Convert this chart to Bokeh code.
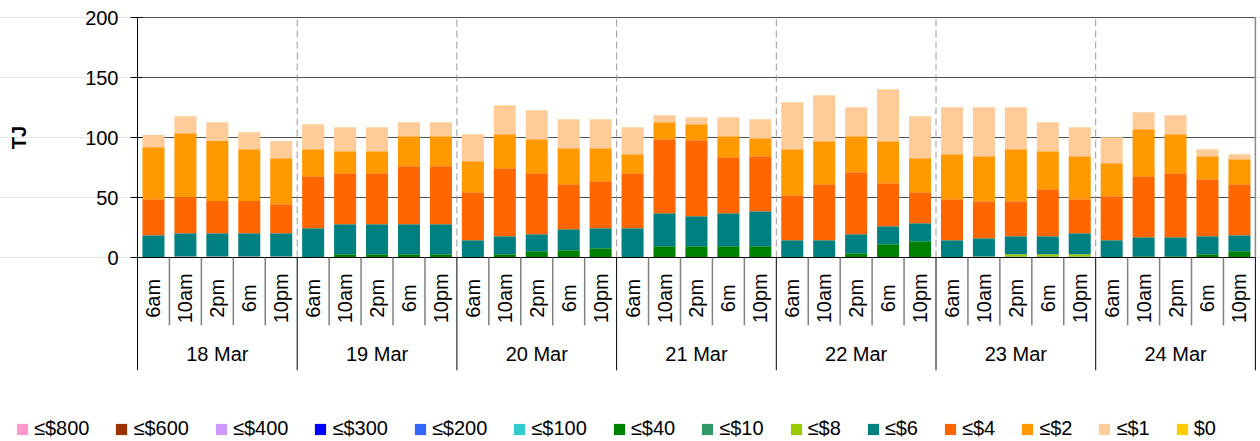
import math
from bokeh.plotting import figure
from bokeh.models import ColumnDataSource, Range1d, FixedTicker, LinearAxis, Grid
from bokeh.core.properties import value
from bokeh.embed import file_html
from bokeh.resources import INLINE

# ---------------- data ----------------
days = ["18 Mar", "19 Mar", "20 Mar", "21 Mar", "22 Mar", "23 Mar", "24 Mar"]
hours = ["6am", "10am", "2pm", "6m", "10pm"]
y_ticks = [0, 50, 100, 150, 200]

labels = ["≤$800", "≤$600", "≤$400", "≤$300", "≤$200", "≤$100", "≤$40",
          "≤$10", "≤$8", "≤$6", "≤$4", "≤$2", "≤$1", "$0"]
colors = ["#FF99CC", "#993300", "#CC99FF", "#0000FF", "#3366FF", "#33CCCC", "#008000",
          "#339966", "#99CC00", "#008080", "#FF6600", "#FF9900", "#FFCC99", "#FFCC00"]

# values in TJ, 5 per day (6am, 10am, 2pm, 6m, 10pm)
le800 = [0, 0.8, 0.8, 0.8, 0.8,  0, 0, 0, 0, 0,  0, 0, 0, 0, 0,  0, 0, 0, 0, 0,
         0, 0, 0, 0, 0,  0, 0, 0, 0, 0,  0, 0, 0, 0, 0]
le600 = [0, 0, 0, 0, 0,  0, 0, 0, 0, 0,  0, 0, 0, 0, 0,  0, 0, 0, 0, 0,
         0, 0, 0, 0, 0,  0, 0, 0, 0, 0,  0, 0, 0, 0, 0]
le400 = [0, 0, 0, 0, 0,  0, 0, 0, 0, 0,  0, 0, 0, 0, 0,  0, 0, 0, 0, 0,
         0, 0, 0, 0, 0,  0, 0, 0, 0, 0,  0, 0, 0, 0, 0]
le300 = [0, 0, 0, 0, 0,  0, 0, 0, 0, 0,  0, 0, 0, 0, 0,  0, 0, 0, 0, 0,
         0, 0, 0, 0, 0,  0, 0, 0, 0, 0,  0, 0, 0, 0, 0]
le200 = [0, 0, 0, 0, 0,  0, 0, 0, 0, 0,  0, 0, 0, 0, 0,  0, 0, 0, 0, 0,
         0, 0, 0, 0, 0,  0, 0, 0, 0, 0,  0, 0, 0, 0, 0]
le100 = [0, 0, 0, 0, 0,  0, 0, 0, 0, 0,  0, 0, 0, 0, 0,  0, 0, 0, 0, 0,
         0, 0, 0, 0, 0,  0, 0, 0, 0, 0,  0, 0, 0, 0, 0]
le40 = [0, 0, 0, 0, 0,  0, 2.8, 2.8, 2.8, 2.8,  0, 2.8, 5.3, 6.1, 7.8,
        0, 9.4, 9.4, 9.4, 9.4,  0, 0, 3.6, 11.1, 13.6,  0, 0, 0.8, 0.8, 0.8,
        0, 1.0, 1.0, 2.8, 5.3]
le10 = [0, 0, 0, 0, 0,  0, 0, 0, 0, 0,  0, 0, 0, 0, 0,  0, 0, 0, 0, 0,
        0, 0, 0, 0, 0,  0, 0, 0, 0, 0,  0, 0, 0, 0, 0]
le8 = [0, 0, 0, 0, 0,  0, 0, 0, 0, 0,  0, 0, 0, 0, 0,  0, 0, 0, 0, 0,
       0, 0, 0, 0, 0,  0, 0.8, 2.0, 2.0, 2.0,  0, 0, 0, 0, 0]
le6 = [18.6, 19.5, 19.5, 19.5, 19.5,  24.4, 25, 25, 25, 25,
       14.4, 15, 14.1, 17.5, 16.6,  24.4, 27.5, 25, 27.5, 29.2,
       14.4, 14.4, 15.8, 15, 15,  14.4, 15.3, 15, 15, 17.5,
       14.4, 15.9, 15.9, 15, 13.3]
le4 = [30, 30, 26.7, 26.7, 24.1,  43.4, 42.5, 42.5, 48.3, 48.3,
       40, 56.6, 50.9, 37.5, 39.2,  45.9, 61.7, 63.4, 46.7, 45.8,
       37.5, 46.7, 51.7, 35.8, 25.8,  34.2, 30.8, 29.1, 39.1, 28.3,
       36.7, 50.9, 53.4, 47.5, 42.5]
le2 = [43.3, 53.3, 50, 43.3, 38.4,  22.5, 18.3, 18.3, 25, 25,
       25.9, 28.4, 28.3, 30, 27.5,  15.8, 14.2, 13.3, 17.5, 15,
       38.4, 35.8, 30, 35, 28.4,  37.5, 37.5, 43.4, 31.7, 35.8,
       27.5, 39.1, 32.5, 19.1, 20.8]
le1 = [10.1, 14.1, 15.8, 14.1, 14.2,  20.8, 20, 20, 11.7, 11.7,
       22.5, 24.1, 24.2, 24.2, 24.2,  22.5, 5.8, 5.8, 15.8, 15.9,
       39.1, 38.4, 24.2, 43.4, 34.9,  39.2, 40.9, 35, 24.2, 24.2,
       21.7, 14.2, 15.8, 5.9, 4.2]
zero = [0, 0, 0, 0, 0,  0, 0, 0, 0, 0,  0, 0, 0, 0, 0,  0, 0, 0, 0, 0,
        0, 0, 0, 0, 0,  0, 0, 0, 0, 0,  0, 0, 0, 0, 0]

series = [le800, le600, le400, le300, le200, le100, le40, le10, le8, le6, le4, le2, le1, zero]
keys = ["s%d" % i for i in range(len(series))]

n_h = len(hours)
n = len(days) * n_h
xs = [i + 0.5 for i in range(n)]

data = {"x": xs}
for k, s in zip(keys, series):
    data[k] = s
src = ColumnDataSource(data)

# ---------------- layout constants ----------------
FONT = "Liberation Sans"
W, H = 1260, 441
LEFT = 137          # screen x of the value axis
SLOT = 31.94        # px per bar slot
PX = 1.2            # px per TJ
ZERO_Y = 257        # screen y of the zero line

p = figure(width=W, height=H,
           x_range=Range1d(-LEFT / SLOT, (W - LEFT) / SLOT),
           y_range=Range1d(-(H - ZERO_Y) / PX, ZERO_Y / PX),
           x_axis_type=None, y_axis_location=None,
           output_backend="svg", toolbar_location=None,
           min_border=0, outline_line_color=None,
           background_fill_color="white", border_fill_color="white")


def hgrid(ticks, color, width):
    try:
        g = Grid(dimension=1, ticker=FixedTicker(ticks=ticks),
                 bounds=(min(ticks) - 1, max(ticks) + 1), cross_bounds=(0, n),
                 grid_line_color=color, grid_line_width=width)
        p.add_layout(g)
        return "grid"
    except AttributeError:
        return None


if hgrid(y_ticks[1:], "#505050", 1) is None:
    p.segment(x0=[0] * 4, y0=y_ticks[1:], x1=[n] * 4, y1=y_ticks[1:],
              line_color="#505050", line_width=1, level="underlay")

p.vbar_stack(keys, x="x", width=0.69, source=src, color=colors,
             line_color=None, legend_label=labels)

# value axis at the left edge of the bar area
ya = LinearAxis(fixed_location=0, ticker=FixedTicker(ticks=y_ticks), bounds=(0, 200))
ya.axis_line_color = "black"
ya.major_tick_line_color = "black"
ya.major_tick_out = 7
ya.major_tick_in = 5
ya.minor_tick_line_color = None
ya.major_label_text_font = FONT
ya.major_label_text_font_size = "20px"
ya.major_label_text_color = "black"
ya.major_label_standoff = 12
ya.axis_label = "TJ"
ya.axis_label_text_font = FONT
ya.axis_label_text_font_size = "20px"
ya.axis_label_text_font_style = "bold"
ya.axis_label_text_color = "black"
ya.axis_label_standoff = 52
p.add_layout(ya, "left")

# zero line
p.segment(x0=[0], y0=[0], x1=[n], y1=[0], line_color="black", line_width=1)

# day separators inside plot (dashed)
dx = [d * n_h for d in range(1, len(days))]
p.segment(x0=dx, y0=[0] * len(dx), x1=dx, y1=[200] * len(dx),
          line_color="#9a9a9a", line_width=1, line_dash="7 4")
# right border of the plot area
p.segment(x0=[n], y0=[0], x1=[n], y1=[200], line_color="#8a8a8a", line_width=1.5)

# category axis separators
hx = [i for i in range(1, n) if i % n_h != 0]
p.segment(x0=hx, y0=[0] * len(hx), x1=hx, y1=[-56.5] * len(hx),
          line_color="#808080", line_width=1.5)
gx = [d * n_h for d in range(len(days) + 1)]
p.segment(x0=gx, y0=[0] * len(gx), x1=gx, y1=[-94] * len(gx),
          line_color="black", line_width=1)

# hour labels
hour_text = [hours[i % n_h] for i in range(n)]
p.text(x=xs, y=[-34] * n, text=hour_text, angle=math.pi / 2,
       text_align="center", text_baseline="middle",
       text_font=value(FONT), text_font_size=value("20px"), text_color="black")

# day labels
day_x = [d * n_h + n_h / 2 for d in range(len(days))]
p.text(x=day_x, y=[-80.6] * len(days), text=days,
       text_align="center", text_baseline="middle",
       text_font=value(FONT), text_font_size=value("20px"), text_color="black")

# legend
lg = p.legend[0]
lg.orientation = "horizontal"
lg.location = (15, 1)
lg.padding = 0
lg.margin = 0
lg.spacing = 25
lg.glyph_width = 14
lg.glyph_height = 14
lg.label_standoff = 5
lg.label_text_font = FONT
lg.label_text_font_size = "20px"
lg.label_text_color = "black"
lg.border_line_color = None
lg.background_fill_alpha = 0

open("out.html", "w").write(file_html(p, INLINE))
